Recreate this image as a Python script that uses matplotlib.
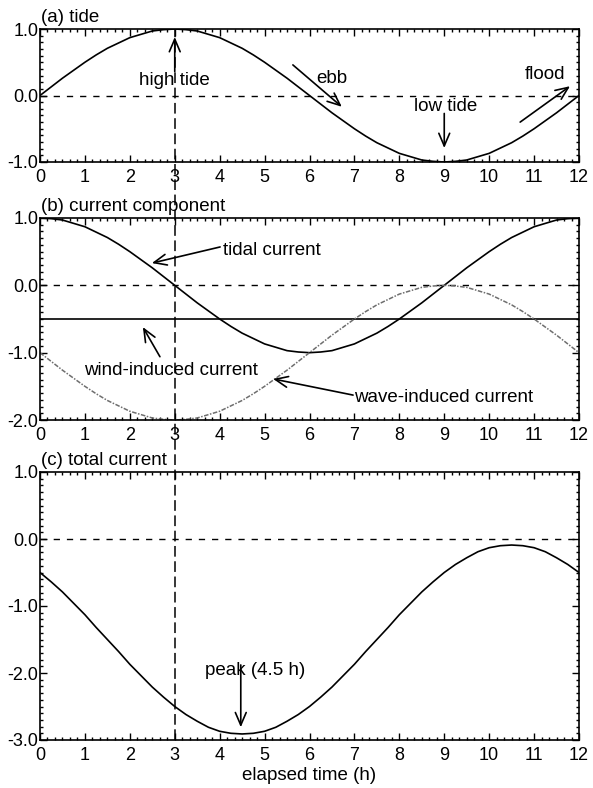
import numpy as np
import matplotlib.pyplot as plt
from matplotlib.lines import Line2D
from matplotlib.ticker import MultipleLocator
import matplotlib.transforms as mtransforms

plt.rcParams['font.family'] = ['Liberation Sans', 'DejaVu Sans']
plt.rcParams['font.size'] = 13

# elapsed time, quarter-hour steps over one tidal cycle
hours = [0.0, 0.25, 0.5, 0.75, 1.0, 1.25, 1.5, 1.75, 2.0, 2.25, 2.5, 2.75,
         3.0, 3.25, 3.5, 3.75, 4.0, 4.25, 4.5, 4.75, 5.0, 5.25, 5.5, 5.75,
         6.0, 6.25, 6.5, 6.75, 7.0, 7.25, 7.5, 7.75, 8.0, 8.25, 8.5, 8.75,
         9.0, 9.25, 9.5, 9.75, 10.0, 10.25, 10.5, 10.75, 11.0, 11.25, 11.5, 11.75,
         12.0]

tide = [0.00, 0.13, 0.26, 0.38, 0.50, 0.61, 0.71, 0.79, 0.87, 0.92, 0.97, 0.99,
        1.00, 0.99, 0.97, 0.92, 0.87, 0.79, 0.71, 0.61, 0.50, 0.38, 0.26, 0.13,
        0.00, -0.13, -0.26, -0.38, -0.50, -0.61, -0.71, -0.79, -0.87, -0.92, -0.97, -0.99,
        -1.00, -0.99, -0.97, -0.92, -0.87, -0.79, -0.71, -0.61, -0.50, -0.38, -0.26, -0.13,
        0.00]

tidal_current = [1.00, 0.99, 0.97, 0.92, 0.87, 0.79, 0.71, 0.61, 0.50, 0.38, 0.26, 0.13,
                 0.00, -0.13, -0.26, -0.38, -0.50, -0.61, -0.71, -0.79, -0.87, -0.92, -0.97, -0.99,
                 -1.00, -0.99, -0.97, -0.92, -0.87, -0.79, -0.71, -0.61, -0.50, -0.38, -0.26, -0.13,
                 0.00, 0.13, 0.26, 0.38, 0.50, 0.61, 0.71, 0.79, 0.87, 0.92, 0.97, 0.99,
                 1.00]

wind_level = -0.5
wind_current = [wind_level] * len(hours)

wave_current = [-1.00, -1.13, -1.26, -1.38, -1.50, -1.61, -1.71, -1.79, -1.87, -1.92, -1.97, -1.99,
                -2.00, -1.99, -1.97, -1.92, -1.87, -1.79, -1.71, -1.61, -1.50, -1.38, -1.26, -1.13,
                -1.00, -0.87, -0.74, -0.62, -0.50, -0.39, -0.29, -0.21, -0.13, -0.08, -0.03, -0.01,
                0.00, -0.01, -0.03, -0.08, -0.13, -0.21, -0.29, -0.39, -0.50, -0.62, -0.74, -0.87,
                -1.00]

total_current = [-0.50, -0.64, -0.79, -0.96, -1.13, -1.32, -1.50, -1.68, -1.87, -2.04, -2.21, -2.36,
                 -2.50, -2.62, -2.72, -2.81, -2.87, -2.90, -2.91, -2.90, -2.87, -2.81, -2.72, -2.62,
                 -2.50, -2.36, -2.21, -2.04, -1.87, -1.68, -1.50, -1.32, -1.13, -0.96, -0.79, -0.64,
                 -0.50, -0.38, -0.28, -0.19, -0.13, -0.10, -0.09, -0.10, -0.13, -0.19, -0.28, -0.38,
                 -0.50]

x_ticks = list(range(13))
x_ticklabels = [str(v) for v in x_ticks]

W, H = 593, 788
fig = plt.figure(figsize=(W / 100, H / 100), dpi=100)


def box(x0, y0, x1, y1):
    # pixel box (top-left origin) -> figure fraction rect
    return [x0 / W, 1 - y1 / H, (x1 - x0) / W, (y1 - y0) / H]


ax_a = fig.add_axes(box(40, 29, 579, 162))
ax_b = fig.add_axes(box(40, 218, 579, 420))
ax_c = fig.add_axes(box(40, 472, 579, 740))

zero_dash = (0, (4.5, 5))
arrow = dict(arrowstyle='->,head_length=0.7,head_width=0.3', lw=1.2, color='k',
             shrinkA=0, shrinkB=0)
note = dict(fontsize=13.5)


def style(ax, ylim, yticks, title):
    ax.set_xlim(0, 12)
    ax.set_ylim(*ylim)
    ax.set_xticks(x_ticks)
    ax.set_xticklabels(x_ticklabels)
    ax.set_yticks(yticks)
    ax.set_yticklabels(['%.1f' % v for v in yticks])
    ax.xaxis.set_minor_locator(MultipleLocator(1 / 6))
    ax.yaxis.set_minor_locator(MultipleLocator(0.1))
    ax.tick_params(which='both', direction='in', top=True, right=True, width=1)
    ax.tick_params(which='major', length=5)
    ax.tick_params(which='minor', length=2.5)
    ax.tick_params(axis='x', pad=5)
    ax.tick_params(axis='y', pad=1)
    for s in ax.spines.values():
        s.set_linewidth(1.2)
    ax.axhline(0, color='k', lw=1, ls=zero_dash)
    ax.annotate(title, xy=(0, 1), xycoords='axes fraction', xytext=(1, 2),
                textcoords='offset points', ha='left', va='bottom', **note)


# (a) tide
style(ax_a, (-1, 1), [-1.0, 0.0, 1.0], '(a) tide')
ax_a.plot(hours, tide, color='k', lw=1.2)
ax_a.text(3.0, 0.23, 'high tide', ha='center', va='center', **note)
ax_a.annotate('', xy=(3.0, 0.88), xytext=(3.0, 0.36), arrowprops=arrow)
ax_a.text(6.5, 0.25, 'ebb', ha='center', va='center', **note)
ax_a.annotate('', xy=(6.72, -0.17), xytext=(5.63, 0.46), arrowprops=arrow)
ax_a.text(9.02, -0.17, 'low tide', ha='center', va='center', **note)
ax_a.annotate('', xy=(9.0, -0.79), xytext=(9.0, -0.27), arrowprops=arrow)
ax_a.text(11.24, 0.31, 'flood', ha='center', va='center', **note)
ax_a.annotate('', xy=(11.8, 0.14), xytext=(10.69, -0.40), arrowprops=arrow)

# (b) current components
style(ax_b, (-2, 1), [-2.0, -1.0, 0.0, 1.0], '(b) current component')
ax_b.plot(hours, tidal_current, color='k', lw=1.2)
ax_b.plot(hours, wind_current, color='k', lw=1.2)
ax_b.plot(hours, wave_current, color='#6e6e6e', lw=1.1, ls=(0, (3, 1, 1, 1)))
ax_b.text(4.07, 0.52, 'tidal current', ha='left', va='center', **note)
ax_b.annotate('', xy=(2.49, 0.33), xytext=(4.01, 0.57), arrowprops=arrow)
ax_b.text(2.92, -1.26, 'wind-induced current', ha='center', va='center', **note)
ax_b.annotate('', xy=(2.29, -0.62), xytext=(2.67, -1.06), arrowprops=arrow)
ax_b.text(6.99, -1.67, 'wave-induced current', ha='left', va='center', **note)
ax_b.annotate('', xy=(5.19, -1.39), xytext=(6.97, -1.63), arrowprops=arrow)

# (c) total current
style(ax_c, (-3, 1), [-3.0, -2.0, -1.0, 0.0, 1.0], '(c) total current')
ax_c.plot(hours, total_current, color='k', lw=1.2)
ax_c.text(4.79, -1.96, 'peak (4.5 h)', ha='center', va='center', **note)
ax_c.annotate('', xy=(4.47, -2.81), xytext=(4.47, -1.88), arrowprops=arrow)
ax_c.set_xlabel('elapsed time (h)', labelpad=2, **note)

# dashed marker at t = 3 h running through all three panels
trans = mtransforms.blended_transform_factory(ax_c.transData, fig.transFigure)
top = ax_a.get_position().y1
bottom = ax_c.get_position().y0
fig.add_artist(Line2D([3, 3], [bottom, top], transform=trans, color='k',
                      lw=1.1, ls=(0, (7, 3)), zorder=10))

fig.savefig('out.png', dpi=100)
